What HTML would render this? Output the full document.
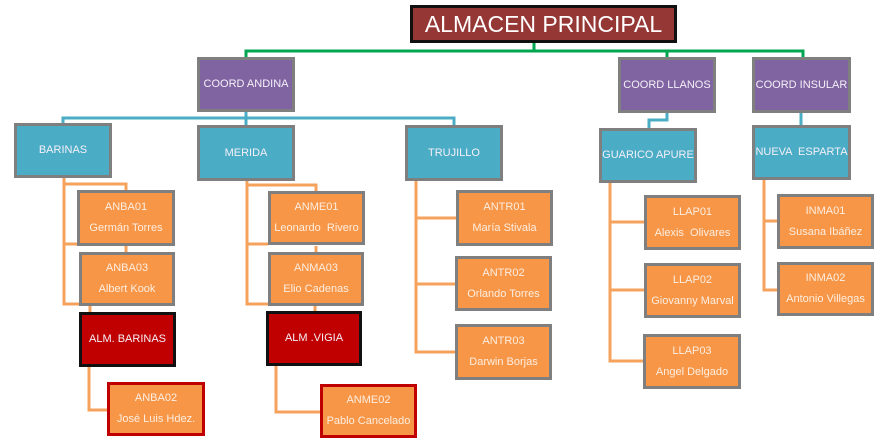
<!DOCTYPE html>
<html><head><meta charset="utf-8"><style>
body{margin:0;width:887px;height:448px;background:#fff;position:relative;overflow:hidden;font-family:"Liberation Sans",sans-serif}
.b{position:absolute;box-sizing:border-box;border:3px solid #7f7f7f;display:flex;flex-direction:column;align-items:center;justify-content:center;color:#f4f0f8;font-size:11px;text-align:center;line-height:21px;white-space:nowrap}
.p{background:#8064a2}.c{background:#4bacc6}.o{background:#f79646;color:#fdeee2}
.r{background:#c00000;border-color:#111}.x{background:#f79646;border-color:#c00000;color:#fdeee2}
svg{position:absolute;left:0;top:0}
</style></head><body>
<svg width="887" height="448">
<g fill="none" stroke="#00a550" stroke-width="3"><path d="M534 42V51M246 57V51H803V57M667 51V57"/></g>
<g fill="none" stroke="#4bacc6" stroke-width="3"><path d="M246 112V118M63 123V118H454V125M246 118V125M667 113V120H649V128M801 113V125"/></g>
<g fill="none" stroke="#f5a25d" stroke-width="3"><path d="M64 178V304H79M64 244H79M64 184H126V191M90 306V312M126 246V252"/>
<path d="M247 181V304H268M247 244H268M247 185H316V191M316 246V252M315 306V311"/>
<path d="M89 367V410H107M276 366V412H320"/>
<path d="M416 181V352H455M416 218H456M416 284H455"/>
<path d="M610 183V361H643M610 222H644M610 290H644"/>
<path d="M764 180V290H777M764 221H777"/></g>
</svg>
<div class="b" style="left:410px;top:5px;width:267px;height:38px;background:#953735;border-color:#111;font-size:23px;color:#fff">ALMACEN PRINCIPAL</div>
<div class="b p" style="left:197px;top:57px;width:98px;height:55px">COORD ANDINA</div>
<div class="b p" style="left:618px;top:57px;width:98px;height:56px">COORD LLANOS</div>
<div class="b p" style="left:752px;top:57px;width:99px;height:56px">COORD INSULAR</div>
<div class="b c" style="left:14px;top:123px;width:98px;height:55px">BARINAS</div>
<div class="b c" style="left:197px;top:125px;width:98px;height:56px">MERIDA</div>
<div class="b c" style="left:405px;top:125px;width:98px;height:56px">TRUJILLO</div>
<div class="b c" style="left:599px;top:128px;width:98px;height:55px">GUARICO APURE</div>
<div class="b c" style="left:752px;top:125px;width:99px;height:55px">NUEVA &nbsp;ESPARTA</div>
<div class="b o" style="left:77px;top:190px;width:98px;height:56px">ANBA01<br>Germán Torres</div>
<div class="b o" style="left:79px;top:252px;width:96px;height:54px">ANBA03<br>Albert Kook</div>
<div class="b r" style="left:79px;top:312px;width:97px;height:55px">ALM. BARINAS</div>
<div class="b x" style="left:107px;top:382px;width:98px;height:54px">ANBA02<br>José Luis Hdez.</div>
<div class="b o" style="left:268px;top:191px;width:97px;height:54px">ANME01<br>Leonardo &nbsp;Rivero</div>
<div class="b o" style="left:268px;top:252px;width:96px;height:54px">ANMA03<br>Elio Cadenas</div>
<div class="b r" style="left:266px;top:311px;width:96px;height:55px">ALM .VIGIA</div>
<div class="b x" style="left:320px;top:384px;width:97px;height:54px">ANME02<br>Pablo Cancelado</div>
<div class="b o" style="left:456px;top:190px;width:97px;height:56px">ANTR01<br>María Stivala</div>
<div class="b o" style="left:455px;top:256px;width:97px;height:55px">ANTR02<br>Orlando Torres</div>
<div class="b o" style="left:455px;top:324px;width:97px;height:56px">ANTR03<br>Darwin Borjas</div>
<div class="b o" style="left:644px;top:195px;width:97px;height:55px">LLAP01<br>Alexis &nbsp;Olivares</div>
<div class="b o" style="left:644px;top:263px;width:97px;height:55px">LLAP02<br>Giovanny Marval</div>
<div class="b o" style="left:643px;top:334px;width:98px;height:55px">LLAP03<br>Angel Delgado</div>
<div class="b o" style="left:777px;top:194px;width:97px;height:55px">INMA01<br>Susana Ibáñez</div>
<div class="b o" style="left:777px;top:262px;width:97px;height:54px">INMA02<br>Antonio Villegas</div>
</body></html>
